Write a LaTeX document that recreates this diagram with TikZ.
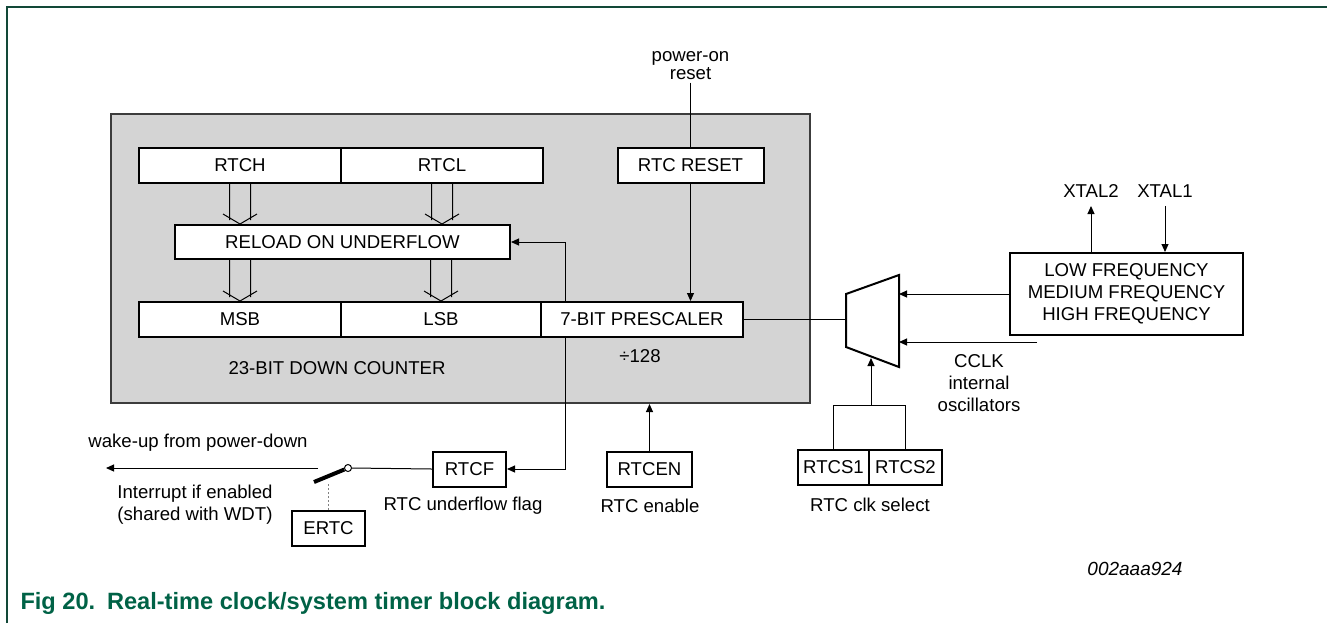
\documentclass[tikz,border=0pt]{standalone}
\usepackage{fontspec}
\setmainfont{Liberation Sans}
\usetikzlibrary{arrows.meta}

\definecolor{cntgray}{RGB}{212,212,212}
\definecolor{cntline}{RGB}{60,60,60}
\definecolor{capgreen}{RGB}{0,98,70}
\definecolor{framegreen}{RGB}{18,72,56}

% hollow bus arrow between two points
\newcommand{\busarrow}[2]{%
  \draw ([xshift=-5.25pt]#1) -- ([xshift=-5.25pt,yshift=1.9pt]#2)
        ([xshift=5.25pt]#1) -- ([xshift=5.25pt,yshift=1.9pt]#2)
        ([xshift=-8.5pt,yshift=5pt]#2) -- (#2) -- ([xshift=8.5pt,yshift=5pt]#2);}

\begin{document}
\begin{tikzpicture}[>={Triangle[length=4pt,width=3.5pt]},x=0.5pt,y=-0.5pt,line width=0.5pt,
    font=\fontsize{9.3}{11}\selectfont,
    box/.style={draw,line width=1pt,fill=white,inner sep=0pt,minimum height=17.5pt},
    counterbox/.style={draw=cntline,fill=cntgray,line width=1pt,inner sep=0pt},
    lbl/.style={inner sep=1pt,align=center}]
    \useasboundingbox (0,0) rectangle (1327,623);
    \draw[framegreen,line width=1pt] (7,623) -- (7,7) -- (1327,7);

    % counter block
    \node[counterbox,minimum width=349.5pt,minimum height=144.5pt] (counter) at (460.5,258.5) {};
    \node[box,minimum width=101pt] (rtch) at (240,165) {RTCH};
    \node[box,minimum width=101pt] (rtcl) at (442,165) {RTCL};
    \node[box,minimum width=73pt] (reset) at (690.5,165) {RTC RESET};
    \node[box,minimum width=167.5pt,minimum height=17pt] (reload) at (342.5,242) {RELOAD ON UNDERFLOW};
    \node[box,minimum width=101pt] (msb) at (240,319.5) {MSB};
    \node[box,minimum width=100pt] (lsb) at (441,319.5) {LSB};
    \node[box,minimum width=101pt] (presc) at (642,319.5) {7-BIT PRESCALER};
    \node[lbl] (cntlbl) at (337,368) {23-BIT DOWN COUNTER};
    \node[lbl] (divlbl) at (640,356) {÷128};
    \node[lbl] (por) at (690.5,66) {power-on\\[-2pt]reset};

    \coordinate (h1) at (rtch.south |- reload.north);
    \coordinate (h2) at (rtcl.south |- reload.north);
    \coordinate (h3) at (msb.north |- reload.south);
    \coordinate (h4) at (lsb.north |- reload.south);
    \foreach \src/\dst in {rtch.south/h1,rtcl.south/h2,h3/msb.north,h4/lsb.north}
        {\busarrow{\src}{\dst}}

    \draw (por.south) -- (reset.north);
    \draw[->] (reset.south) -- (reset.south |- presc.north);
    \coordinate (tap) at (565,302);
    \draw[->] (tap) |- (reload.east);

    % lower row
    \node[box,minimum width=36.5pt] (rtcf) at (469.5,469) {RTCF};
    \node[box,minimum width=42.5pt] (rtcen) at (649.5,469) {RTCEN};
    \node[box,minimum width=36.5pt] (ertc) at (328.5,528.5) {ERTC};
    \node[draw,circle,fill=white,inner sep=0pt,minimum size=3.5pt] (sw) at (348,468) {};
    \node[lbl] (wake) at (198,443) {wake-up from power-down};
    \node[lbl,align=left] (irq) at (195,505) {Interrupt if enabled\\(shared with WDT)};
    \node[lbl] (flaglbl) at (463,506) {RTC underflow flag};
    \node[lbl] (enlbl) at (650,506) {RTC enable};

    \draw[->] (tap |- presc.south) |- (rtcf.east);
    \draw[->] (rtcen.north) -- (rtcen.north |- counter.south);
    \draw (rtcf.west) -- (sw.east);
    \coordinate (blade) at (314,482);
    \draw[line width=2pt] (blade) -- (sw);
    \coordinate (wk) at (318,468);
    \coordinate (wkout) at (106,468);
    \draw[->] (wk) -- (wkout);
    \draw[gray,dash pattern=on 1pt off 1pt] (ertc.north) -- ++(0,-28);

    % clock select
    \draw[line width=1pt] (846,294) -- (899,275) -- (899,367) -- (846,347) -- cycle;
    \coordinate (muxo) at (846,319.5);
    \coordinate (muxa) at (899,294);
    \coordinate (muxb) at (899,342);
    \coordinate (muxs) at (871,358);
    \node[box,minimum width=116.5pt,minimum height=41pt,align=center] (osc) at (1126.5,294)
        {LOW FREQUENCY\\MEDIUM FREQUENCY\\HIGH FREQUENCY};
    \node[lbl] (xtal2) at (1091,191) {XTAL2};
    \node[lbl] (xtal1) at (1165,191) {XTAL1};
    \node[lbl] (osclbl) at (979,383) {CCLK\\internal\\oscillators};
    \node[box,minimum width=35.5pt] (rtcs1) at (833.5,467.5) {RTCS1};
    \node[box,minimum width=36.5pt] (rtcs2) at (905.5,467.5) {RTCS2};
    \node[lbl] (sellbl) at (870,505) {RTC clk select};
    \coordinate (cclk) at (1037,342);
    \coordinate (sel) at (871,405);

    \draw (presc.east) -- (muxo);
    \draw[->] (osc.west) -- (muxa);
    \draw[->] (cclk) -- (muxb);
    \draw (rtcs1.north) |- (sel) -| (rtcs2.north);
    \draw[->] (sel) -- (muxs);
    \draw[->] (xtal2.south |- osc.north) -- ([yshift=-3pt]xtal2.south);
    \draw[->] ([yshift=-3pt]xtal1.south) -- (xtal1.south |- osc.north);

    \node[lbl,font=\fontsize{9.5}{11}\selectfont\itshape] (fignum) at (1135,569) {002aaa924};
    \node[anchor=west,inner sep=0pt,text=capgreen,font=\fontsize{11.8}{14}\selectfont\bfseries] (caption) at (20,603)
        {Fig 20.\hspace{0.5em}Real-time clock/system timer block diagram.};
\end{tikzpicture}
\end{document}
